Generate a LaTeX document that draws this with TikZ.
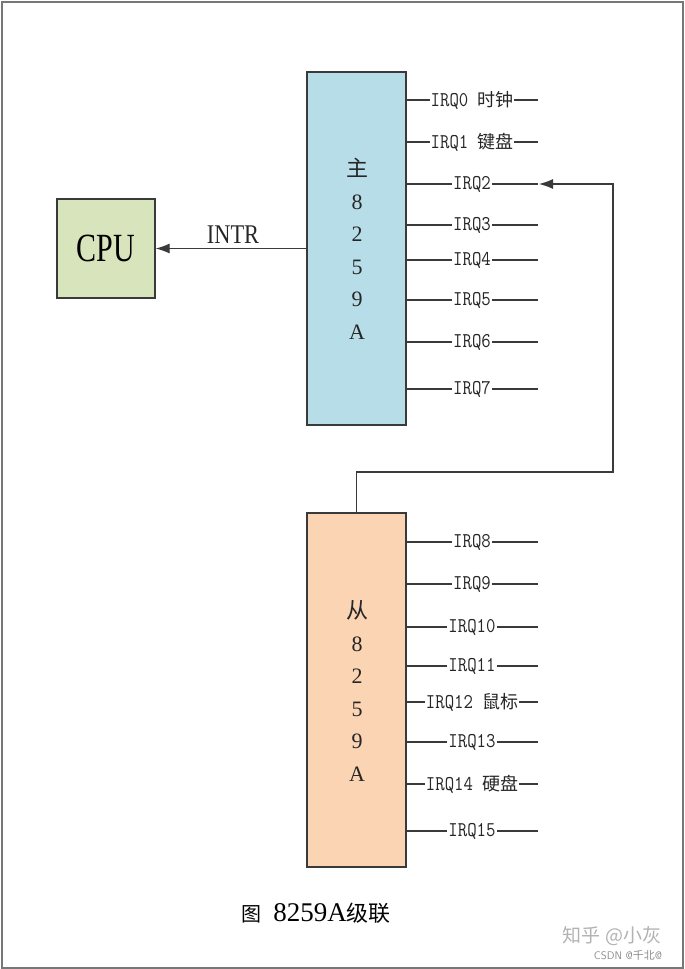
\documentclass[tikz,border=0pt]{standalone}
\usepackage{fontspec}
\usepackage{graphicx}
\setmainfont{Liberation Serif}
\newfontfamily\cjk{Noto Sans CJK SC}
\usetikzlibrary{arrows.meta}
\definecolor{ln}{HTML}{3A3A3A}
\definecolor{masterc}{HTML}{B7DEE8}
\definecolor{slavec}{HTML}{FBD4B4}
\definecolor{cpuc}{HTML}{D7E4BC}
\definecolor{frame}{HTML}{777777}
\newcommand{\irqt}[1]{\scalebox{0.87}[1]{\fontsize{21}{21}\selectfont\ttfamily #1}}
\newcommand{\zh}[1]{{\cjk\fontsize{18}{18}\selectfont #1}}
\tikzset{
  box/.style={draw=ln, line width=1.3pt, inner sep=0pt},
  wire/.style={draw=ln, line width=1.1pt},
  lbl/.style={fill=white, inner sep=1pt, text=black!85},
  chiptext/.style={align=center, inner sep=0pt, text=black!85, font=\fontsize{22}{32.5}\selectfont},
  tip/.style={-{Latex[length=14pt,width=10pt]}}
}
\begin{document}
\begin{tikzpicture}[x=1pt,y=-1pt]
\useasboundingbox (0,0) rectangle (685,969);
\draw[frame, line width=2pt] (1.5,1.5) rectangle (683,967.5);

% boxes
\node[box, fill=masterc, minimum width=99pt, minimum height=353pt] (master) at (356.5,248.5) {};
\node[box, fill=slavec, minimum width=99pt, minimum height=354pt] (slave) at (356.5,690) {};
\node[box, fill=cpuc, minimum width=98pt, minimum height=99pt] (cpu) at (106,248.5)
  {\scalebox{0.75}[1]{\fontsize{40}{40}\selectfont CPU}};

% chip texts
\node[chiptext] (mtxt) at (357,249) {{\cjk 主}\\8\\2\\5\\9\\A};
\node[chiptext] (stxt) at (357,691) {{\cjk 从}\\8\\2\\5\\9\\A};

% INTR
\draw[wire, tip] (master.west) -- (cpu.east);
\node[text=black!85] (intr) at (233,235) {\scalebox{0.83}[1]{\fontsize{27}{27}\selectfont INTR}};

% master IRQ lines
\foreach \n/\y/\t in {0/100/{\irqt{IRQ0}\hspace{9pt}\zh{时钟}},
                      1/142/{\irqt{IRQ1}\hspace{9pt}\zh{键盘}},
                      2/184/{\irqt{IRQ2}},
                      3/225/{\irqt{IRQ3}},
                      4/260/{\irqt{IRQ4}},
                      5/300/{\irqt{IRQ5}},
                      6/342/{\irqt{IRQ6}},
                      7/389/{\irqt{IRQ7}}}{
  \coordinate (e\n) at (538,\y);
  \draw[wire] (master.east |- e\n) -- (e\n);
  \node[lbl] (l\n) at (472,\y) {\t};
}
% slave IRQ lines
\foreach \n/\y/\t in {8/542/{\irqt{IRQ8}},
                      9/584/{\irqt{IRQ9}},
                      10/627/{\irqt{IRQ10}},
                      11/666/{\irqt{IRQ11}},
                      12/702/{\irqt{IRQ12}\hspace{9pt}\zh{鼠标}},
                      13/742/{\irqt{IRQ13}},
                      14/784/{\irqt{IRQ14}\hspace{9pt}\zh{硬盘}},
                      15/831/{\irqt{IRQ15}}}{
  \coordinate (e\n) at (538,\y);
  \draw[wire] (slave.east |- e\n) -- (e\n);
  \node[lbl] (l\n) at (472,\y) {\t};
}

% cascade
\coordinate (c1) at (613,472);
\coordinate (a2) at (539,184);
\draw[wire, tip] (slave.north) |- (c1) |- (a2);

% caption
\node[inner sep=0pt] (cap) at (316,913) {{\cjk\fontsize{20}{20}\selectfont 图}\hspace{12pt}{\fontsize{27}{27}\selectfont 8259A}{\cjk\fontsize{22}{22}\selectfont 级联}};

% watermark
\node[text=black!30, inner sep=0pt] (wm1) at (612,936) {\cjk\fontsize{19}{19}\selectfont 知乎 @小灰};
\node[text=black!45, inner sep=0pt] (wm2) at (628,955) {\sffamily\fontsize{11}{11}\selectfont CSDN @{\cjk 千北}@};
\end{tikzpicture}
\end{document}
